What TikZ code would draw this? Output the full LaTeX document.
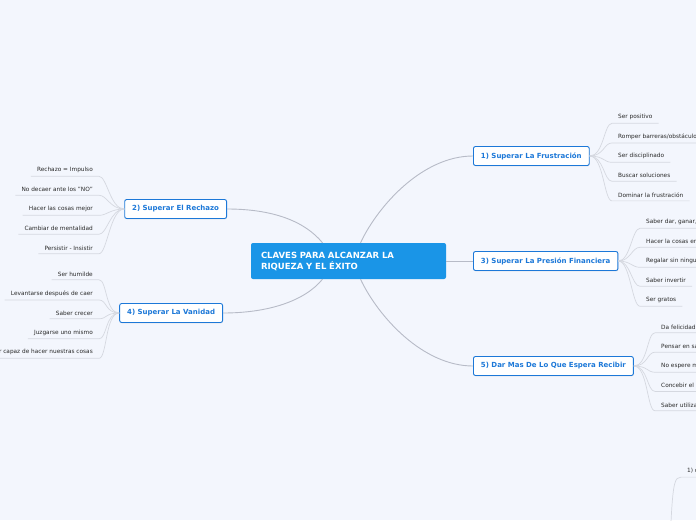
\documentclass[tikz,border=0pt]{standalone}
\usepackage{fontspec}
\setmainfont{DejaVu Sans}
\usetikzlibrary{shadows}
\definecolor{bgpage}{HTML}{F3F6FD}
\definecolor{hubblue}{HTML}{1A95E7}
\definecolor{branchblue}{HTML}{1C78D8}
\definecolor{linkgrey}{HTML}{B7BBC7}
\definecolor{leafgrey}{HTML}{D5D8E0}
\definecolor{leaftext}{HTML}{2A2A2A}
\begin{document}
\begin{tikzpicture}[x=1pt,y=-1pt,
    hub/.style={fill=hubblue,rounded corners=2pt,text=white,font=\fontsize{8.5}{11}\selectfont\bfseries,
        text width=175pt,align=left,inner xsep=10pt,minimum height=36pt},
    branchbox/.style={draw=branchblue,fill=white,line width=0.9pt,rounded corners=2pt,text=branchblue,
        font=\fontsize{7}{8}\selectfont\bfseries,inner xsep=7.5pt,minimum height=19pt,
        drop shadow={shadow xshift=0.4pt,shadow yshift=-0.8pt,opacity=0.2}},
    leaf/.style={font=\fontsize{5.8}{6}\selectfont,text=leaftext,inner xsep=6pt,minimum height=10pt},
    link/.style={draw=linkgrey,line width=0.9pt},
    leaflink/.style={draw=leafgrey,line width=0.7pt}]
    \fill[bgpage] (0,0) rectangle (696,520);
    \useasboundingbox (0,0) rectangle (696,520);
    \clip (0,0) rectangle (696,520);

    % centre
    \node[hub] (hub) at (348.5,261) {CLAVES PARA ALCANZAR LA\\RIQUEZA Y EL ÉXITO};

    % branches
    \node[branchbox,anchor=west] (b1) at (473,156) {1) Superar La Frustración};
    \node[branchbox,anchor=east] (b2) at (227,209) {2) Superar El Rechazo};
    \node[branchbox,anchor=west] (b3) at (473,261) {3) Superar La Presión Financiera};
    \node[branchbox,anchor=east] (b4) at (223,313) {4) Superar La Vanidad};
    \node[branchbox,anchor=west] (b5) at (473,366) {5) Dar Mas De Lo Que Espera Recibir};

    \draw[link] ([xshift=12pt]hub.north) .. controls +(18,-38) and +(-50,0) .. (b1.west);
    \draw[link] ([xshift=-26pt]hub.north) .. controls +(-18,-22) and +(45,0) .. (b2.east);
    \draw[link] (hub.east) -- (b3.west);
    \draw[link] ([xshift=-26pt]hub.south) .. controls +(-18,22) and +(45,0) .. (b4.east);
    \draw[link] ([xshift=12pt]hub.south) .. controls +(18,38) and +(-50,0) .. (b5.west);

    % leaves of 1)
    \node[leaf,anchor=west] (l11) at (612,117) {Ser positivo};
    \node[leaf,anchor=west] (l12) at (612,136.5) {Romper barreras/obstáculos};
    \node[leaf,anchor=west] (l13) at (612,156) {Ser disciplinado};
    \node[leaf,anchor=west] (l14) at (612,175.5) {Buscar soluciones};
    \node[leaf,anchor=west] (l15) at (612,195) {Dominar la frustración};
    \draw[leaflink] (b1.east) .. controls +(14,0) and +(-8,0) .. (l11.south west) -- (l11.south east);
    \draw[leaflink] (b1.east) .. controls +(14,0) and +(-8,0) .. (l12.south west) -- (l12.south east);
    \draw[leaflink] (b1.east) .. controls +(14,0) and +(-8,0) .. (l13.south west) -- (l13.south east);
    \draw[leaflink] (b1.east) .. controls +(14,0) and +(-8,0) .. (l14.south west) -- (l14.south east);
    \draw[leaflink] (b1.east) .. controls +(14,0) and +(-8,0) .. (l15.south west) -- (l15.south east);

    % leaves of 3)
    \node[leaf,anchor=west] (l31) at (640,222) {Saber dar, ganar, t};
    \node[leaf,anchor=west] (l32) at (640,241.5) {Hacer la cosas en};
    \node[leaf,anchor=west] (l33) at (640,261) {Regalar sin ningun};
    \node[leaf,anchor=west] (l34) at (640,280.5) {Saber invertir};
    \node[leaf,anchor=west] (l35) at (640,300) {Ser gratos};
    \draw[leaflink] (b3.east) .. controls +(12,0) and +(-8,0) .. (l31.south west) -- (l31.south east);
    \draw[leaflink] (b3.east) .. controls +(12,0) and +(-8,0) .. (l32.south west) -- (l32.south east);
    \draw[leaflink] (b3.east) .. controls +(12,0) and +(-8,0) .. (l33.south west) -- (l33.south east);
    \draw[leaflink] (b3.east) .. controls +(12,0) and +(-8,0) .. (l34.south west) -- (l34.south east);
    \draw[leaflink] (b3.east) .. controls +(12,0) and +(-8,0) .. (l35.south west) -- (l35.south east);

    % leaves of 5)
    \node[leaf,anchor=west] (l51) at (655,327) {Da felicidad};
    \node[leaf,anchor=west] (l52) at (655,346.5) {Pensar en sa};
    \node[leaf,anchor=west] (l53) at (655,366) {No espere m};
    \node[leaf,anchor=west] (l54) at (655,385.5) {Concebir el é};
    \node[leaf,anchor=west] (l55) at (655,405) {Saber utiliza};
    \draw[leaflink] (b5.east) .. controls +(14,0) and +(-8,0) .. (l51.south west) -- (l51.south east);
    \draw[leaflink] (b5.east) .. controls +(14,0) and +(-8,0) .. (l52.south west) -- (l52.south east);
    \draw[leaflink] (b5.east) .. controls +(14,0) and +(-8,0) .. (l53.south west) -- (l53.south east);
    \draw[leaflink] (b5.east) .. controls +(14,0) and +(-8,0) .. (l54.south west) -- (l54.south east);
    \draw[leaflink] (b5.east) .. controls +(14,0) and +(-8,0) .. (l55.south west) -- (l55.south east);

    % leaves of 2)
    \node[leaf,anchor=east] (l21) at (99,170) {Rechazo = Impulso};
    \node[leaf,anchor=east] (l22) at (99,189.5) {No decaer ante los "NO"};
    \node[leaf,anchor=east] (l23) at (99,209) {Hacer las cosas mejor};
    \node[leaf,anchor=east] (l24) at (99,228.5) {Cambiar de mentalidad};
    \node[leaf,anchor=east] (l25) at (99,248) {Persistir - Insistir};
    \draw[leaflink] (b2.west) .. controls +(-14,0) and +(8,0) .. (l21.south east) -- (l21.south west);
    \draw[leaflink] (b2.west) .. controls +(-14,0) and +(8,0) .. (l22.south east) -- (l22.south west);
    \draw[leaflink] (b2.west) .. controls +(-14,0) and +(8,0) .. (l23.south east) -- (l23.south west);
    \draw[leaflink] (b2.west) .. controls +(-14,0) and +(8,0) .. (l24.south east) -- (l24.south west);
    \draw[leaflink] (b2.west) .. controls +(-14,0) and +(8,0) .. (l25.south east) -- (l25.south west);

    % leaves of 4)
    \node[leaf,anchor=east] (l41) at (99,274) {Ser humilde};
    \node[leaf,anchor=east] (l42) at (99,293.5) {Levantarse después de caer};
    \node[leaf,anchor=east] (l43) at (99,313) {Saber crecer};
    \node[leaf,anchor=east] (l44) at (99,332.5) {Juzgarse uno mismo};
    \node[leaf,anchor=east] (l45) at (99,352) {Ser capaz de hacer nuestras cosas};
    \draw[leaflink] (b4.west) .. controls +(-14,0) and +(8,0) .. (l41.south east) -- (l41.south west);
    \draw[leaflink] (b4.west) .. controls +(-14,0) and +(8,0) .. (l42.south east) -- (l42.south west);
    \draw[leaflink] (b4.west) .. controls +(-14,0) and +(8,0) .. (l43.south east) -- (l43.south west);
    \draw[leaflink] (b4.west) .. controls +(-14,0) and +(8,0) .. (l44.south east) -- (l44.south west);
    \draw[leaflink] (b4.west) .. controls +(-14,0) and +(8,0) .. (l45.south east) -- (l45.south west);

    % corner of a further branch, bottom right
    \node[leaf,anchor=west] (l61) at (681,471) {1) c};
    \coordinate (tail) at (671,522);
    \draw[leaflink] (tail) .. controls +(2,-40) and +(-6,0) .. (l61.south west) -- (l61.south east);
\end{tikzpicture}
\end{document}
